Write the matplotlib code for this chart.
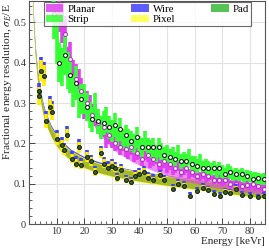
import matplotlib
matplotlib.use("Agg")
import matplotlib.pyplot as plt
from matplotlib.patches import Patch
from matplotlib.ticker import MultipleLocator, FixedLocator
import numpy as np

plt.rcParams['font.family'] = ['Liberation Serif', 'DejaVu Serif']
plt.rcParams['mathtext.fontset'] = 'stix'

# ---------------- data ----------------
# fitted bands (centre values)
lowE_fit_E = [1.3, 1.7, 2.2, 3, 4, 5, 6, 8, 10, 12, 15, 20, 25, 30, 40, 50, 60, 70, 80, 86]
lowE_fit_V = [0.56, 0.49, 0.43, 0.37, 0.32, 0.285, 0.26, 0.228, 0.205, 0.188, 0.17, 0.151,
              0.139, 0.13, 0.117, 0.107, 0.098, 0.089, 0.08, 0.075]
wire_fit_V = [0.57, 0.50, 0.44, 0.38, 0.33, 0.295, 0.27, 0.237, 0.214, 0.197, 0.178, 0.159,
              0.147, 0.137, 0.123, 0.113, 0.103, 0.094, 0.085, 0.08]

planar_fit_E = [10.5, 12, 14, 17, 20, 24, 28, 32, 38, 45, 55, 65, 75, 86]
planar_fit_V = [0.56, 0.49, 0.42, 0.35, 0.30, 0.25, 0.215, 0.19, 0.165, 0.145, 0.122, 0.106, 0.095, 0.086]

strip_fit_E = [7.8, 9, 11, 13, 16, 19, 22, 26, 30, 35, 41, 48, 55, 65, 75, 86]
strip_fit_V = [0.56, 0.50, 0.44, 0.40, 0.35, 0.31, 0.28, 0.255, 0.235, 0.215, 0.198, 0.178,
               0.16, 0.14, 0.125, 0.11]

# measured points
pix_E = [3.6, 4.3, 5.4, 6, 7.5, 8.4, 10, 11.8, 12.5, 13.8, 15.6, 16.9, 18, 19, 21, 22.5, 24,
         26.2, 27, 28.5, 30, 31, 32, 33.5, 35, 37, 38.5, 40, 41.5, 43, 45, 47.6, 49, 52, 54,
         56, 58.5, 61, 63, 65, 67, 69.3, 71, 73, 75, 77, 80, 83, 85]
pix_V = [0.318, 0.38, 0.368, 0.255, 0.29, 0.277, 0.21, 0.195, 0.183, 0.22, 0.162, 0.15, 0.19,
         0.146, 0.166, 0.155, 0.129, 0.175, 0.15, 0.14, 0.145, 0.138, 0.113, 0.135, 0.109,
         0.105, 0.12, 0.125, 0.13, 0.115, 0.11, 0.121, 0.108, 0.088, 0.1, 0.095, 0.069, 0.081,
         0.09, 0.085, 0.075, 0.069, 0.08, 0.078, 0.088, 0.072, 0.069, 0.066, 0.07]
wire_V = [0.33, 0.39, 0.378, 0.265, 0.3, 0.287, 0.22, 0.203, 0.19, 0.23, 0.17, 0.158, 0.198,
          0.154, 0.173, 0.162, 0.136, 0.182, 0.157, 0.147, 0.151, 0.144, 0.119, 0.141, 0.115,
          0.111, 0.126, 0.131, 0.136, 0.121, 0.116, 0.127, 0.114, 0.094, 0.106, 0.1, 0.075,
          0.087, 0.095, 0.09, 0.08, 0.075, 0.085, 0.083, 0.093, 0.077, 0.074, 0.071, 0.075]

planar_E = list(range(11, 86))
planar_V = [0.53, 0.50, 0.47, 0.40, 0.41, 0.37, 0.36, 0.35, 0.33, 0.29, 0.30, 0.29, 0.27,
            0.27, 0.25, 0.24, 0.24, 0.21, 0.22, 0.21, 0.20, 0.205, 0.19, 0.20, 0.185, 0.18,
            0.19, 0.17, 0.175, 0.18, 0.16, 0.175, 0.17, 0.155, 0.16, 0.165, 0.15, 0.145,
            0.155, 0.14, 0.15, 0.135, 0.14, 0.145, 0.13, 0.135, 0.14, 0.125, 0.13, 0.128,
            0.12, 0.118, 0.125, 0.115, 0.118, 0.12, 0.11, 0.112, 0.11, 0.105, 0.108, 0.112,
            0.1, 0.105, 0.1, 0.1, 0.095, 0.103, 0.096, 0.093, 0.098, 0.09, 0.094, 0.09, 0.088]

strip_E = list(range(9, 86))
strip_V = [0.52, 0.45, 0.40, 0.39, 0.42, 0.38, 0.37, 0.33, 0.35, 0.30, 0.31, 0.31, 0.29,
           0.27, 0.26, 0.29, 0.255, 0.24, 0.25, 0.26, 0.24, 0.23, 0.245, 0.22, 0.235, 0.21,
           0.22, 0.21, 0.205, 0.20, 0.215, 0.195, 0.19, 0.205, 0.19, 0.185, 0.19, 0.175,
           0.19, 0.18, 0.17, 0.175, 0.165, 0.17, 0.16, 0.175, 0.155, 0.16, 0.155, 0.165,
           0.15, 0.15, 0.145, 0.155, 0.14, 0.145, 0.14, 0.135, 0.14, 0.13, 0.138, 0.13,
           0.125, 0.133, 0.128, 0.12, 0.125, 0.12, 0.125, 0.115, 0.12, 0.118, 0.112, 0.115,
           0.113, 0.11, 0.112]

labels = ["Planar", "Strip", "Wire", "Pixel", "Pad"]
colors = {"Planar": "#e040f0", "Strip": "#33ff33", "Wire": "#4040ff",
          "Pixel": "#ffff40", "Pad": "#55c455"}

# ---------------- figure ----------------
fig = plt.figure(figsize=(2.69, 2.52), dpi=100)
ax = fig.add_axes([29/269, 1-224/252, (265-29)/269, (224-1)/252])

ax.set_xlim(0, 85.5)
ax.set_ylim(0, 0.553)
ax.grid(True, which='major', color='#e2e2e2', lw=0.8, zorder=0)
ax.set_axisbelow(True)

def band(E, V, hw, color, alpha, z):
    E = np.asarray(E); V = np.asarray(V)
    ax.fill_between(E, V - hw, V + hw, color=color, alpha=alpha, lw=0, zorder=z)

# wire band (blue, slightly above), pixel yellow, pad green overlay
band(lowE_fit_E, wire_fit_V, 0.008, colors["Wire"], 1.0, 2)
band(lowE_fit_E, lowE_fit_V, 0.013, colors["Pixel"], 1.0, 2.1)
band(lowE_fit_E, lowE_fit_V, 0.011, "#95ad2c", 0.85, 2.2)

# planar and strip bands
band(planar_fit_E, planar_fit_V, 0.013, colors["Planar"], 0.6, 3)
band(strip_fit_E, strip_fit_V, 0.014, colors["Strip"], 0.55, 3.1)

def pts(E, V, rel, color, z, mfc, mec, every):
    E = np.asarray(E, float); V = np.asarray(V, float)
    ax.errorbar(E, V, yerr=rel * V, fmt='none', ecolor=color, elinewidth=2.6, zorder=z)
    ax.plot(E[::every], V[::every], 'o', ms=2.8, mfc=mfc, mec=mec, mew=0.7, zorder=z + 0.5,
            ls='none')

pts(planar_E, planar_V, 0.1, colors["Planar"], 4, 'white', '#b020c0', 2)
pts(strip_E, strip_V, 0.12, colors["Strip"], 4.2, 'white', 'black', 2)
pts(pix_E, wire_V, 0.06, colors["Wire"], 5, '#2d6a2d', 'black', 100)
pts(pix_E, pix_V, 0.07, "#ffee00", 5.2, '#2d6a2d', '#111111', 1)

# axes styling
ax.xaxis.set_major_locator(FixedLocator([10, 20, 30, 40, 50, 60, 70, 80]))
ax.xaxis.set_minor_locator(MultipleLocator(2))
ax.yaxis.set_major_locator(MultipleLocator(0.1))
ax.yaxis.set_minor_locator(MultipleLocator(0.02))
ax.yaxis.set_major_formatter(plt.FuncFormatter(lambda v, p: "0" if abs(v) < 1e-9 else f"{v:.1f}"))
ax.tick_params(which='both', direction='in', labelsize=7.5, pad=2, colors='#444444',
               labelcolor='#333333')
ax.tick_params(which='major', length=4, width=0.7)
ax.tick_params(which='minor', length=2, width=0.6)
for s in ax.spines.values():
    s.set_color('#555555'); s.set_linewidth(0.8)

ax.set_xlabel("Energy [keVr]", fontsize=8, loc='right', labelpad=1, color='#222222')
ax.set_ylabel(r"Fractional energy resolution, $\sigma_E$/E", fontsize=8.2, loc='top',
              color='#222222')
ax.yaxis.set_label_coords(-0.062, 0.988)

handles = [Patch(facecolor=colors[l], edgecolor='none', alpha=0.85 if l != "Pad" else 1)
           for l in labels]
leg = ax.legend(handles, labels, ncol=3, loc='lower left', mode='expand',
                bbox_to_anchor=(0.064, 0.888, 0.876, 0.107), fontsize=7.8, frameon=True,
                fancybox=False, shadow=False, handlelength=1.6, handleheight=0.7,
                handletextpad=0.4, borderpad=0.15, labelspacing=0.1, borderaxespad=0,
                columnspacing=0.5)
leg.get_frame().set_edgecolor('#444444')
leg.get_frame().set_linewidth(0.8)
leg.set_zorder(10)

fig.savefig("out.png", dpi=100)
